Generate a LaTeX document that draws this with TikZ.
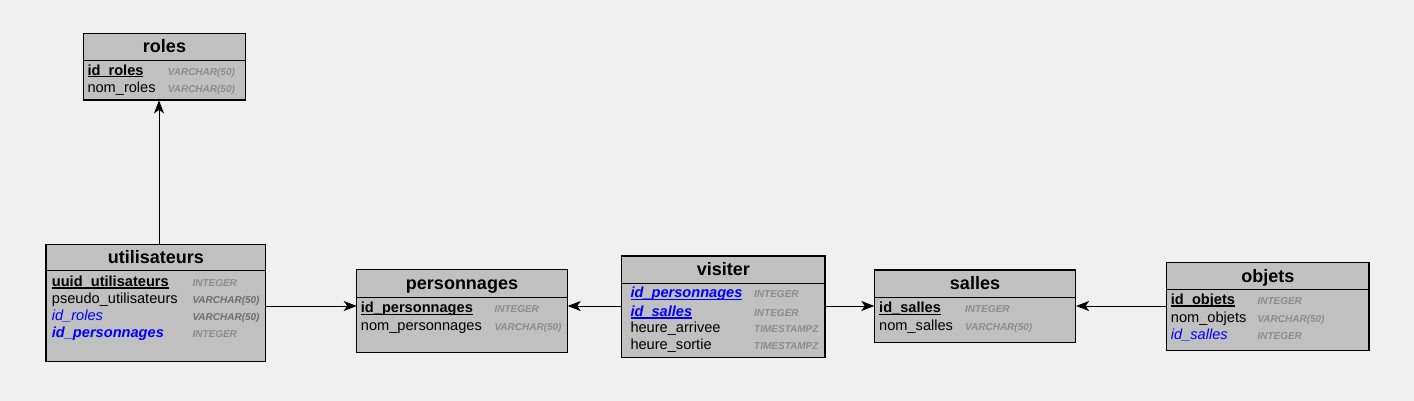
\documentclass[tikz,border=0pt]{standalone}
\usepackage{fontspec}
\setmainfont{Liberation Sans}
\usetikzlibrary{arrows.meta}
\definecolor{bgc}{HTML}{F0F0F0}
\definecolor{boxc}{HTML}{C0C0C0}
\definecolor{fkblue}{HTML}{0000FF}
\definecolor{typec}{HTML}{8C8C8C}
\definecolor{typedark}{HTML}{6E6E6E}
\newcommand\ulx[1]{\setbox0\hbox{#1}\rlap{\rule[-2.3pt]{\wd0}{1.1pt}}\box0}
\tikzset{
  tbl/.style={draw=black, fill=boxc, line width=1.3pt, inner sep=0pt, outer sep=0pt},
  sepline/.style={line width=1.1pt},
  title/.style={anchor=base, inner sep=0pt, font=\fontsize{18}{20}\selectfont\bfseries},
  fld/.style={anchor=base west, inner sep=0pt, font=\fontsize{14.6}{17}\selectfont},
  typ/.style={anchor=base west, inner sep=0pt, text=typec, font=\fontsize{10}{12}\selectfont\bfseries\itshape},
  arr/.style={line width=1pt, -{Stealth[length=13pt,width=10pt,inset=3.5pt]}},
}
\begin{document}
\begin{tikzpicture}[x=1pt,y=-1pt]
\useasboundingbox[fill=bgc] (0,0) rectangle (1414,401);
% roles
\path[tbl] (83.3,33.3) rectangle (245.7,100);
\node[draw=none, inner sep=0pt, minimum width=162.4pt, minimum height=66.7pt, anchor=north west] (roles) at (83.3,33.3) {};
\draw[sepline] (83.3,60.7) -- (245.7,60.7);
\node[title] (rolesT) at (164.5,53) {roles};
\node[fld] (roles1) at (87.3,75.2) {\bfseries\ulx{id\_roles}};
\node[typ] (roles1t) at (167.7,75.2) {VARCHAR(50)};
\node[fld] (roles2) at (87.3,92.2) {nom\_roles};
\node[typ] (roles2t) at (167.7,92.2) {VARCHAR(50)};
% utilisateurs
\path[tbl] (46,244.3) rectangle (265.7,361.7);
\node[draw=none, inner sep=0pt, minimum width=219.7pt, minimum height=117.4pt, anchor=north west] (util) at (46,244.3) {};
\draw[sepline] (46,270.7) -- (265.7,270.7);
\node[title] (utilT) at (155.9,263.5) {utilisateurs};
\node[fld] (util1) at (51.7,286.2) {\bfseries\ulx{uuid\_utilisateurs}};
\node[typ] (util1t) at (192.3,286.2) {INTEGER};
\node[fld] (util2) at (51.7,303.5) {pseudo\_utilisateurs};
\node[typ, text=typedark] (util2t) at (192.3,303.5) {VARCHAR(50)};
\node[fld, text=fkblue] (util3) at (51.7,320.5) {\itshape id\_roles};
\node[typ, text=typedark] (util3t) at (192.3,320.5) {VARCHAR(50)};
\node[fld, text=fkblue] (util4) at (51.7,337.8) {\bfseries\itshape id\_personnages};
\node[typ] (util4t) at (192.3,337.8) {INTEGER};
% personnages
\path[tbl] (356.7,269.3) rectangle (567.3,352.3);
\node[draw=none, inner sep=0pt, minimum width=210.6pt, minimum height=83pt, anchor=north west] (perso) at (356.7,269.3) {};
\draw[sepline] (356.7,297.3) -- (567.3,297.3);
\node[title] (persoT) at (462,289.3) {personnages};
\node[fld] (perso1) at (360.7,312.8) {\bfseries\ulx{id\_personnages}};
\node[typ] (perso1t) at (494.3,312.8) {INTEGER};
\node[fld] (perso2) at (360.7,330.2) {nom\_personnages};
\node[typ] (perso2t) at (494.3,330.2) {VARCHAR(50)};
% visiter
\path[tbl] (621.7,256) rectangle (825,357.3);
\node[draw=none, inner sep=0pt, minimum width=203.3pt, minimum height=101.3pt, anchor=north west] (visit) at (621.7,256) {};
\draw[sepline] (621.7,283.3) -- (825,283.3);
\node[title] (visitT) at (723.3,275.7) {visiter};
\node[fld, text=fkblue] (visit1) at (630.3,297.8) {\bfseries\itshape\ulx{id\_personnages}};
\node[typ] (visit1t) at (754,297.8) {INTEGER};
\node[fld, text=fkblue] (visit2) at (630.3,316.2) {\bfseries\itshape\ulx{id\_salles}};
\node[typ] (visit2t) at (754,316.2) {INTEGER};
\node[fld] (visit3) at (630.3,332.8) {heure\_arrivee};
\node[typ] (visit3t) at (754,332.8) {TIMESTAMPZ};
\node[fld] (visit4) at (630.3,349.5) {heure\_sortie};
\node[typ] (visit4t) at (754,349.5) {TIMESTAMPZ};
% salles
\path[tbl] (874.3,270) rectangle (1075.7,342.7);
\node[draw=none, inner sep=0pt, minimum width=201.4pt, minimum height=72.7pt, anchor=north west] (salles) at (874.3,270) {};
\draw[sepline] (874.3,297.7) -- (1075.7,297.7);
\node[title] (sallesT) at (975,289.8) {salles};
\node[fld] (salles1) at (879,312.8) {\bfseries\ulx{id\_salles}};
\node[typ] (salles1t) at (965,312.8) {INTEGER};
\node[fld] (salles2) at (879,330.2) {nom\_salles};
\node[typ] (salles2t) at (965,330.2) {VARCHAR(50)};
% objets
\path[tbl] (1166.7,262.3) rectangle (1369,350.7);
\node[draw=none, inner sep=0pt, minimum width=202.3pt, minimum height=88.4pt, anchor=north west] (objets) at (1166.7,262.3) {};
\draw[sepline] (1166.7,289.7) -- (1369,289.7);
\node[title] (objetsT) at (1267.8,282) {objets};
\node[fld] (objets1) at (1170.7,304.2) {\bfseries\ulx{id\_objets}};
\node[typ] (objets1t) at (1257.3,304.2) {INTEGER};
\node[fld] (objets2) at (1170.7,322.5) {nom\_objets};
\node[typ] (objets2t) at (1257.3,322.5) {VARCHAR(50)};
\node[fld, text=fkblue] (objets3) at (1170.7,339.2) {\itshape id\_salles};
\node[typ] (objets3t) at (1257.3,339.2) {INTEGER};
% connectors
\coordinate (lvl) at (0,306);
\draw[arr] (util.north -| 159,0) -- (roles.south -| 159,0);
\draw[arr] (util.east |- lvl) -- (perso.west |- lvl);
\draw[arr] (visit.west |- lvl) -- (perso.east |- lvl);
\draw[arr] (visit.east |- lvl) -- (salles.west |- lvl);
\draw[arr] (objets.west |- lvl) -- (salles.east |- lvl);
\end{tikzpicture}
\end{document}
